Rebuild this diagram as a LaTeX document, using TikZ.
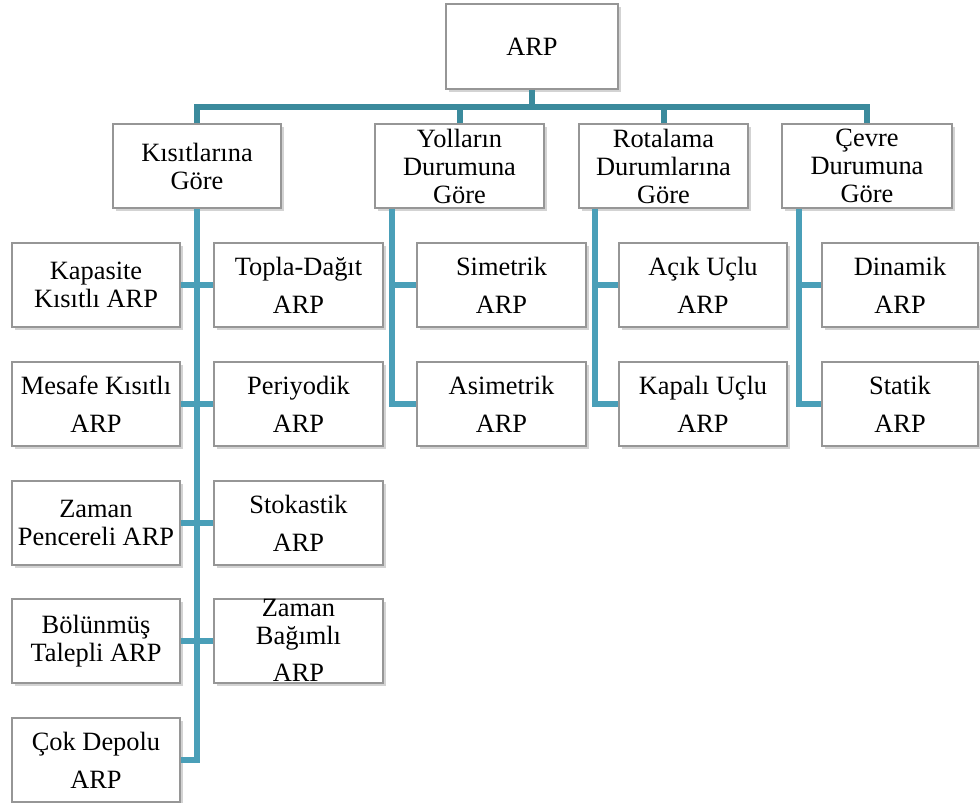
\documentclass[tikz,border=0pt]{standalone}
\usepackage{fontspec}
\setmainfont{Liberation Serif}
\usetikzlibrary{shadows, calc}
\definecolor{busteal}{RGB}{59, 138, 156}
\definecolor{branchteal}{RGB}{74, 159, 184}
\definecolor{boxgray}{RGB}{150, 150, 150}

\begin{document}
\begin{tikzpicture}[x=0.5pt, y=-0.5pt,
    box/.style={draw=boxgray, line width=0.8pt, fill=white, align=center,
      inner sep=1pt, minimum width=84pt, minimum height=42pt,
      font=\fontsize{13.2}{14}\selectfont,
      drop shadow={shadow xshift=1.4pt, shadow yshift=-1.6pt, opacity=0.35}},
    bus/.style={busteal, line width=3pt},
    branch/.style={branchteal, line width=3pt}]
  \useasboundingbox (0, 0) rectangle (980, 803);

  % Root
  \node[box, minimum width=86pt, minimum height=42.5pt] (arp) at (532, 46.5) {ARP};

  % First level
  \node[box] (kis) at (197, 166) {Kısıtlarına\\Göre};
  \node[box, minimum width=84.5pt] (yol) at (459.5, 166) {Yolların\\Durumuna\\Göre};
  \node[box, minimum width=84.5pt] (rot) at (663.5, 166) {Rotalama\\Durumlarına\\Göre};
  \node[box, minimum width=85pt] (cev) at (867, 166) {Çevre\\Durumuna\\Göre};

  % Constraint types
  \node[box] (kap) at (96, 285) {Kapasite\\Kısıtlı ARP};
  \node[box] (mes) at (96, 404) {Mesafe Kısıtlı\\[5pt]ARP};
  \node[box] (zpe) at (96, 523) {Zaman\\Pencereli ARP};
  \node[box] (bol) at (96, 641) {Bölünmüş\\Talepli ARP};
  \node[box] (cok) at (96, 760) {Çok Depolu\\[5pt]ARP};
  \node[box, minimum width=84.5pt] (tdg) at (298.5, 285) {Topla-Dağıt\\[5pt]ARP};
  \node[box, minimum width=84.5pt] (per) at (298.5, 404) {Periyodik\\[5pt]ARP};
  \node[box, minimum width=84.5pt] (sto) at (298.5, 523) {Stokastik\\[5pt]ARP};
  \node[box, minimum width=84.5pt] (zba) at (298.5, 641)
    {\raisebox{-8.2pt}{\smash{\begin{tabular}{@{}c@{}}Zaman\\Bağımlı\\[4.5pt]ARP\end{tabular}}}};

  % Road, routing and environment types
  \node[box, minimum width=84.5pt] (sim) at (501.5, 285) {Simetrik\\[5pt]ARP};
  \node[box, minimum width=84.5pt] (asi) at (501.5, 404) {Asimetrik\\[5pt]ARP};
  \node[box] (acu) at (703, 285) {Açık Uçlu\\[5pt]ARP};
  \node[box] (kau) at (703, 404) {Kapalı Uçlu\\[5pt]ARP};
  \node[box, minimum width=78pt] (din) at (900, 285) {Dinamik\\[5pt]ARP};
  \node[box, minimum width=78pt] (sta) at (900, 404) {Statik\\[5pt]ARP};

  % Bus under the root
  \coordinate (bus) at (532, 107);
  \draw[bus] (arp.south) -- (arp.south |- bus);
  \draw[bus] (kis.north) -- (kis.north |- bus) -- (cev.north |- bus) -- (cev.north);
  \draw[bus] (yol.north) -- (yol.north |- bus);
  \draw[bus] (rot.north) -- (rot.north |- bus);

  % Branches
  \draw[branch] (kis.south) -- (kis.south |- cok.east) -- (cok.east);
  \foreach \l/\r in {kap/tdg, mes/per, zpe/sto, bol/zba}
    \draw[branch] (\l.east) -- (\r.west);

  \coordinate (yolt) at ($(yol.south west) + (18, 0)$);
  \draw[branch] (yolt) -- (yolt |- asi.west) -- (asi.west);
  \draw[branch] (yolt |- sim.west) -- (sim.west);

  \coordinate (rott) at ($(rot.south west) + (17, 0)$);
  \draw[branch] (rott) -- (rott |- kau.west) -- (kau.west);
  \draw[branch] (rott |- acu.west) -- (acu.west);

  \coordinate (cevt) at ($(cev.south west) + (18, 0)$);
  \draw[branch] (cevt) -- (cevt |- sta.west) -- (sta.west);
  \draw[branch] (cevt |- din.west) -- (din.west);
\end{tikzpicture}
\end{document}
